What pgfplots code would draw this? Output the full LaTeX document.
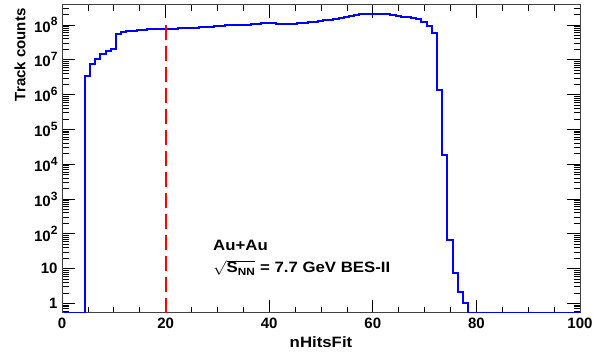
\documentclass[border=0pt]{standalone}
\usepackage{fontspec}
\setmainfont{Liberation Sans}
\usepackage{graphicx}
\usepackage{pgfplots}
\pgfplotsset{compat=1.18}
\usepackage{pgfplotstable}

\pgfplotstableread{
x y
0 0.533
1 0.533
2 0.533
3 0.533
4 3.5e6
5 7.6e6
6 1.07e7
7 1.47e7
8 1.8e7
9 2.1e7
10 5.6e7
11 6.2e7
12 6.7e7
13 6.7e7
14 7.0e7
15 7.0e7
16 7.5e7
17 7.5e7
18 7.6e7
19 7.6e7
20 7.6e7
21 7.6e7
22 8.1e7
23 8.1e7
24 8.2e7
25 8.3e7
26 8.7e7
27 8.7e7
28 8.8e7
29 9.5e7
30 9.6e7
31 1.0e8
32 1.0e8
33 1.0e8
34 1.02e8
35 1.03e8
36 1.04e8
37 1.07e8
38 1.12e8
39 1.17e8
40 1.17e8
41 1.05e8
42 1.05e8
43 1.06e8
44 1.10e8
45 1.14e8
46 1.16e8
47 1.2e8
48 1.24e8
49 1.29e8
50 1.35e8
51 1.42e8
52 1.48e8
53 1.56e8
54 1.65e8
55 1.78e8
56 1.9e8
57 2.0e8
58 2.05e8
59 2.09e8
60 2.09e8
61 2.05e8
62 2.0e8
63 1.95e8
64 1.85e8
65 1.7e8
66 1.66e8
67 1.6e8
68 1.47e8
69 1.23e8
70 9.5e7
71 5.7e7
72 1.35e6
73 1.8e4
74 66
75 7.3
76 2.2
77 1.0
78 0.533
79 0.533
80 0.533
81 0.533
82 0.533
83 0.533
84 0.533
85 0.533
86 0.533
87 0.533
88 0.533
89 0.533
90 0.533
91 0.533
92 0.533
93 0.533
94 0.533
95 0.533
96 0.533
97 0.533
98 0.533
99 0.533
100 0.533
}\histdata

\newcommand{\pw}[1]{10\raisebox{0.42em}{\fontsize{12}{12}\selectfont #1}}
\newcommand{\fs}{\fontsize{15}{17}\selectfont\bfseries}

\begin{document}
\begin{tikzpicture}
\useasboundingbox (0,0) rectangle (593pt,355pt);
\begin{axis}[
  at={(62pt,42pt)}, anchor=south west,
  scale only axis, width=518pt, height=308pt,
  xmin=0, xmax=100,
  ymode=log, ymin=0.533, ymax=3.75e8,
  xtick={0,20,40,60,80,100},
  xticklabels={0,20,40,60,80,100},
  minor x tick num=3,
  ytick={1,10,100,1000,1e4,1e5,1e6,1e7,1e8},
  yticklabels={1,10,\pw{2},\pw{3},\pw{4},\pw{5},\pw{6},\pw{7},\pw{8}},
  minor ytick={0.6,0.7,0.8,0.9,2,3,4,5,6,7,8,9,20,30,40,50,60,70,80,90,200,300,400,500,600,700,800,900,2e3,3e3,4e3,5e3,6e3,7e3,8e3,9e3,2e4,3e4,4e4,5e4,6e4,7e4,8e4,9e4,2e5,3e5,4e5,5e5,6e5,7e5,8e5,9e5,2e6,3e6,4e6,5e6,6e6,7e6,8e6,9e6,2e7,3e7,4e7,5e7,6e7,7e7,8e7,9e7,2e8,3e8},
  tick align=inside, tick pos=both,
  xticklabel pos=bottom, yticklabel pos=left,
  major tick length=13pt, minor tick length=6.5pt,
  every tick/.style={black, line width=0.8pt},
  axis line style={black!75, line width=1pt},
  tick label style={font=\fs},
  label style={font=\fs},
  xticklabel style={yshift=-1pt},
  yticklabel style={xshift=-1pt},
  xlabel={\scalebox{1.12}[1]{nHitsFit}},
  xlabel style={at={(axis description cs:0.5,-0.094)}, anchor=center},
  ylabel={Track counts},
  ylabel style={at={(axis description cs:-0.081,1)}, anchor=east, rotate=0},
  clip=true,
]
\addplot[const plot mark left, color=blue, line width=2pt] table[x expr=\thisrow{x}+0.4, y=y] {\histdata};
\addplot[color=red, line width=2pt, dash pattern=on 15pt off 6pt] coordinates {(20,0.533) (20,1e8)};
\end{axis}
\node[anchor=base west, inner sep=0pt, font=\fs] at (213pt,104pt) {\scalebox{1.12}[1]{Au+Au}};
\node[anchor=base west, inner sep=0pt, font=\fs] at (213pt,82pt) {\scalebox{1.12}[1]{$\sqrt{\mbox{S}_{\mbox{\fontsize{10.5}{10.5}\selectfont NN}}}$ = 7.7 GeV BES-II}};
\end{tikzpicture}
\end{document}
